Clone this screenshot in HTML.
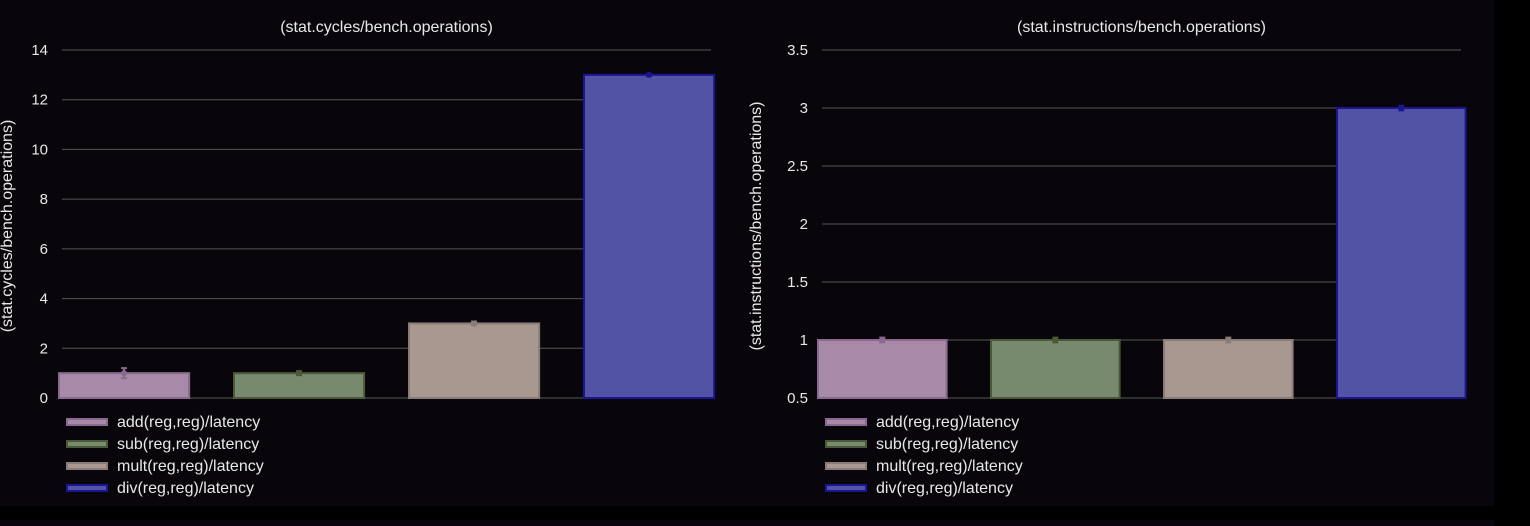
<!DOCTYPE html>
<html><head><meta charset="utf-8">
<style>
html,body{margin:0;padding:0;background:#000;}
#wrap{position:relative;width:1530px;height:526px;background:#000;overflow:hidden;}
svg{position:absolute;left:0;top:0;font-family:"Liberation Sans",sans-serif;}
</style></head>
<body>
<div id="wrap">
<svg id="svg" width="1530" height="526"></svg>
</div>
<script>
const categories = ["add(reg,reg)/latency","sub(reg,reg)/latency","mult(reg,reg)/latency","div(reg,reg)/latency"];
const cyclesValues = [1.0, 1.0, 3.0, 13.0];
const cyclesErr = [0.2, 0.08, 0.08, 0.05];
const instrValues = [1.0, 1.0, 1.0, 3.0];
const instrErr = [0.02, 0.02, 0.02, 0.02];
const cyclesTicks = [0,2,4,6,8,10,12,14];
const instrTicks = [0.5,1,1.5,2,2.5,3,3.5];
const fills = ["#a68aa8","#778a6e","#a89890","#5353a5"];
const strokes = ["#8a6a90","#4a5a38","#8a7c78","#1a1590"];

const NS="http://www.w3.org/2000/svg";
const svg=document.getElementById('svg');
function el(tag,attrs,parent){const e=document.createElementNS(NS,tag);for(const k in attrs)e.setAttribute(k,attrs[k]);(parent||svg).appendChild(e);return e;}

const bg=el('rect',{x:0,y:0,width:1494,height:506,fill:'#08060a'});


const bg2=el('rect',{x:0,y:520,width:1494,height:6,fill:'#08060a'});



function chart(o){
  const g=el('g',{});
  
  
  const y=v=>o.y0-(v-o.vmin)*(o.y0-o.y1)/(o.vmax-o.vmin);
  o.ticks.forEach(t=>{
    const ln=el('line',{x1:o.gx0,x2:o.gx1,y1:y(t),y2:y(t),stroke:'#555',"stroke-width":1},g);
    
    
    const tx=el('text',{x:o.tickX,y:y(t)+5,fill:'#e8e8e8',"font-size":15,"text-anchor":'end'},g);
    tx.textContent=t;
    
    
  });
  const t=el('text',{x:(o.gx0+o.gx1)/2,y:32,fill:'#e8e8e8',"font-size":16,"text-anchor":'middle'},g);
  t.textContent=o.title;
  
  
  const yt=el('text',{x:0,y:0,fill:'#e8e8e8',"font-size":16,"text-anchor":'middle',transform:`translate(${o.ytX},${(o.y0+o.y1)/2+2}) rotate(-90)`},g);
  yt.textContent=o.title;
  
  
  const n=o.values.length, slot=(o.bx1-o.bx0)/n, bw=slot*0.755;
  o.values.forEach((v,i)=>{
    const x=o.bx0+i*slot;
    const b=el('rect',{x:x+1,y:y(v),width:bw-2,height:o.y0-y(v),fill:fills[i],stroke:strokes[i],"stroke-width":2},g);
    
    
    const cx=x+bw/2, e=o.err[i];
    const eb=el('path',{d:`M${cx},${y(v+e)}V${y(v-e)}M${cx-3},${y(v+e)}H${cx+3}M${cx-3},${y(v-e)}H${cx+3}`,stroke:strokes[i],"stroke-width":2,fill:'none'},g);
    
    
    const dot=el('circle',{cx:cx,cy:y(v),r:3,fill:strokes[i]},g);
    
    
  });
  categories.forEach((c,i)=>{
    const ly=422+i*22;
    const sw=el('rect',{x:o.lx,y:ly-3,width:40,height:6,fill:fills[i],stroke:strokes[i],"stroke-width":2},g);
    
    
    const lt=el('text',{x:o.lx+50,y:ly+5,fill:'#e8e8e8',"font-size":16},g);
    lt.textContent=c;
    
    
  });
}
chart({name:'cycles-chart',title:'(stat.cycles/bench.operations)',values:cyclesValues,err:cyclesErr,ticks:cyclesTicks,vmin:0,vmax:14,y0:398,y1:50,gx0:62,gx1:711,bx0:58,bx1:758,tickX:48,ytX:12,lx:67});
chart({name:'instructions-chart',title:'(stat.instructions/bench.operations)',values:instrValues,err:instrErr,ticks:instrTicks,vmin:0.5,vmax:3.5,y0:398,y1:50,gx0:822,gx1:1461,bx0:817,bx1:1509,tickX:808,ytX:761,lx:826});
</script>
</body></html>
